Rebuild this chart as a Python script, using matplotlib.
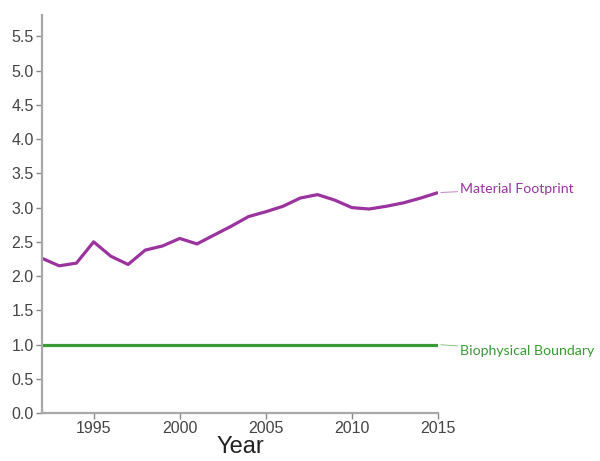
import matplotlib
matplotlib.use("Agg")
import matplotlib.pyplot as plt

# Data
years = list(range(1992, 2016))
material_footprint = [2.26, 2.15, 2.19, 2.50, 2.29, 2.17, 2.38, 2.44, 2.55, 2.47,
                      2.60, 2.73, 2.87, 2.94, 3.02, 3.14, 3.19, 3.11, 3.00, 2.98,
                      3.02, 3.07, 3.14, 3.22]
boundary = [1.0] * len(years)
yticks = [0.0, 0.5, 1.0, 1.5, 2.0, 2.5, 3.0, 3.5, 4.0, 4.5, 5.0, 5.5]
xticks = [1995, 2000, 2005, 2010, 2015]

purple = "#9b339f"
green = "#3a9a35"
axis_grey = "#a8a8a8"

fig = plt.figure(figsize=(6.0, 4.61), dpi=100)
ax = fig.add_axes([0.07, 0.104, 0.66, 0.863])

ax.plot(years, material_footprint, color=purple, linewidth=2.3, solid_capstyle="butt")
ax.plot(years, boundary, color=green, linewidth=2.3, solid_capstyle="butt")

ax.set_xlim(1992, 2015)
ax.set_ylim(0, 5.81)
ax.set_yticks(yticks)
ax.set_yticklabels([f"{v:.1f}" for v in yticks])
ax.set_xticks(xticks)

for s in ["top", "right"]:
    ax.spines[s].set_visible(False)
for s in ["left", "bottom"]:
    ax.spines[s].set_color(axis_grey)
    ax.spines[s].set_linewidth(1.6)
ax.tick_params(labelsize=11.5, length=4, width=1, direction="out", pad=2,
               color="#888888")
for lab in ax.get_xticklabels() + ax.get_yticklabels():
    lab.set_family("Liberation Sans")
    lab.set_color("#444444")

ax.set_xlabel("Year", fontsize=17, family="Liberation Sans", color="#222222", labelpad=0)

# line labels with leader lines
labels = [("Material Footprint", material_footprint[-1], material_footprint[-1] + 0.05, purple),
          ("Biophysical Boundary", boundary[-1], boundary[-1] - 0.09, green)]
for text, yv, ty, col in labels:
    ax.annotate(text, xy=(years[-1], yv), xycoords="data",
                xytext=(years[-1] + 1.3, ty), textcoords="data",
                color=col, fontsize=10.2, family="Lato", va="center", ha="left",
                annotation_clip=False,
                arrowprops=dict(arrowstyle="-", color=col, lw=0.6, alpha=0.7,
                                shrinkA=0, shrinkB=2))

fig.savefig("out.png", dpi=100)
